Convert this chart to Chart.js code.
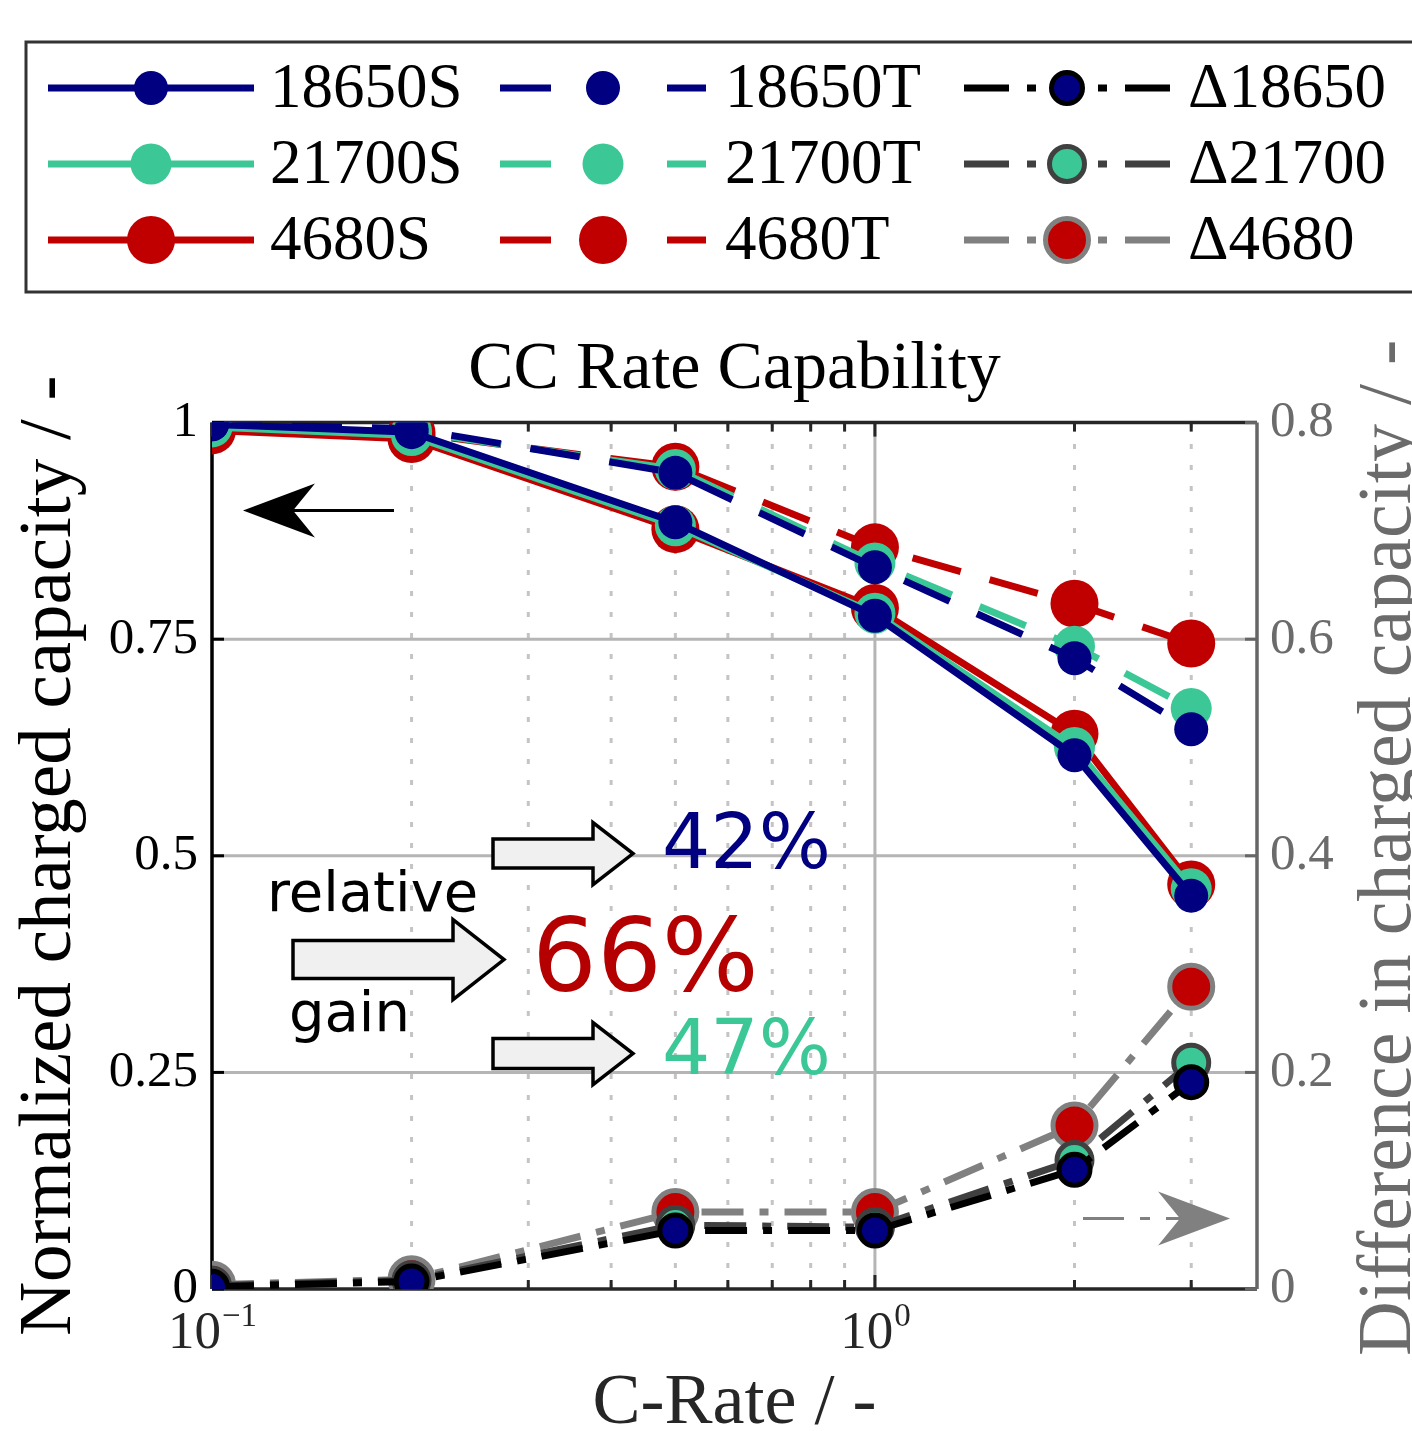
<!DOCTYPE html>
<html>
<head>
<meta charset="utf-8">
<script src="https://cdn.jsdelivr.net/npm/chart.js@4.4.0/dist/chart.umd.min.js"></script>
<style>
    html, body { margin: 0; padding: 0; background: #fff; }
    canvas { display: block; }
</style>
</head>
<body>
<canvas id="rateChart" width="1412" height="1431"></canvas>
<script>
// C-rates of the test points
const cRates = [0.1, 0.2, 0.5, 1, 2, 3];

// normalized charged capacity, S and T variants
const s18650 = [0.998, 0.989, 0.885, 0.777, 0.616, 0.454];
const s21700 = [0.995, 0.985, 0.881, 0.780, 0.625, 0.462];
const s4680 = [0.991, 0.981, 0.877, 0.786, 0.641, 0.467];
const t18650 = [0.998, 0.993, 0.942, 0.833, 0.728, 0.646];
const t21700 = [0.997, 0.990, 0.946, 0.838, 0.742, 0.670];
const t4680 = [0.996, 0.988, 0.949, 0.856, 0.791, 0.745];

// difference T - S (right axis)
const d18650 = [0.002, 0.007, 0.054, 0.054, 0.110, 0.191];
const d21700 = [0.003, 0.008, 0.059, 0.057, 0.119, 0.209];
const d4680 = [0.004, 0.009, 0.071, 0.071, 0.151, 0.279];

const xTickValues = [0.1, 0.2, 0.3, 0.4, 0.5, 0.6, 0.7, 0.8, 0.9, 1, 2, 3];
const xTickLabels = { 0.1: ['10', '\u22121'], 1: ['10', '0'] };
const leftTicks = [0, 0.25, 0.5, 0.75, 1];
const rightTicks = [0, 0.2, 0.4, 0.6, 0.8];
const gainTexts = ['42%', '66%', '47%'];
const gainWords = ['relative', 'gain'];

const SERIF = '"Liberation Serif", "Times New Roman", serif';
const SANS = '"DejaVu Sans", sans-serif';
const NAVY = '#000080';
const TEAL = '#3cc896';
const RED = '#c00000';
const DASH = [50, 30];
const DASHDOT = [42, 16, 9, 16];

function mainSeries(label, values, color, radius, dash) {
    return {
        label: label,
        data: cRates.map((x, i) => ({ x: x, y: values[i] })),
        yAxisID: 'y',
        borderColor: color,
        backgroundColor: color,
        borderWidth: 7,
        borderDash: dash,
        pointRadius: radius,
        pointHoverRadius: radius,
        pointBackgroundColor: color,
        pointBorderColor: color,
        pointBorderWidth: 0,
        tension: 0
    };
}

function deltaSeries(label, values, lineColor, fill, radius) {
    return {
        label: label,
        data: cRates.map((x, i) => ({ x: x, y: values[i] })),
        yAxisID: 'y2',
        borderColor: lineColor,
        backgroundColor: fill,
        borderWidth: 7,
        borderDash: DASHDOT,
        pointRadius: radius,
        pointHoverRadius: radius,
        pointBackgroundColor: fill,
        pointBorderColor: lineColor,
        pointBorderWidth: 5,
        tension: 0
    };
}

// first entry ends up on top
const datasets = [
    deltaSeries('\u039418650', d18650, '#000000', NAVY, 15.5),
    deltaSeries('\u039421700', d21700, '#404040', TEAL, 17.5),
    deltaSeries('\u03944680', d4680, '#808080', RED, 21.5),
    mainSeries('18650T', t18650, NAVY, 17, DASH),
    mainSeries('18650S', s18650, NAVY, 17, []),
    mainSeries('21700T', t21700, TEAL, 20.5, DASH),
    mainSeries('21700S', s21700, TEAL, 20.5, []),
    mainSeries('4680T', t4680, RED, 24, DASH),
    mainSeries('4680S', s4680, RED, 24, [])
];

function line(ctx, x1, y1, x2, y2) {
    ctx.beginPath();
    ctx.moveTo(x1, y1);
    ctx.lineTo(x2, y2);
    ctx.stroke();
}

function blockArrow(ctx, x0, yc, shaftLen, shaftHalf, headLen, headHalf) {
    ctx.save();
    ctx.beginPath();
    ctx.moveTo(x0, yc - shaftHalf);
    ctx.lineTo(x0 + shaftLen, yc - shaftHalf);
    ctx.lineTo(x0 + shaftLen, yc - headHalf);
    ctx.lineTo(x0 + shaftLen + headLen, yc);
    ctx.lineTo(x0 + shaftLen, yc + headHalf);
    ctx.lineTo(x0 + shaftLen, yc + shaftHalf);
    ctx.lineTo(x0, yc + shaftHalf);
    ctx.closePath();
    ctx.fillStyle = '#f0f0f0';
    ctx.fill();
    ctx.lineWidth = 3.5;
    ctx.strokeStyle = '#000';
    ctx.lineJoin = 'miter';
    ctx.stroke();
    ctx.restore();
}

// thin arrow: tip, wing span back, notch
function thinArrow(ctx, x1, x2, y, color, dash, dir) {
    ctx.save();
    ctx.strokeStyle = color;
    ctx.fillStyle = color;
    ctx.lineWidth = 3;
    ctx.setLineDash(dash);
    const notch = x2 - dir * 50;
    line(ctx, x1, y, notch, y);
    ctx.setLineDash([]);
    ctx.beginPath();
    ctx.moveTo(x2, y);
    ctx.lineTo(x2 - dir * 72, y - 27);
    ctx.lineTo(notch, y);
    ctx.lineTo(x2 - dir * 72, y + 27);
    ctx.closePath();
    ctx.fill();
    ctx.restore();
}

const figurePlugin = {
    id: 'figureDecor',
    beforeDatasetsDraw(chart) {
        const ctx = chart.ctx;
        const ca = chart.chartArea;
        const xs = chart.scales.x, ys = chart.scales.y, y2 = chart.scales.y2;
        ctx.save();
        // minor dotted grid
        ctx.strokeStyle = '#c4c4c4';
        ctx.lineWidth = 3;
        ctx.setLineDash([5, 16]);
        xTickValues.forEach(v => {
            if (xTickLabels[v]) return;
            const px = xs.getPixelForValue(v);
            line(ctx, px, ca.bottom, px, ca.top);
        });
        // major grid
        ctx.setLineDash([]);
        ctx.strokeStyle = '#b5b5b5';
        const p1 = xs.getPixelForValue(1);
        line(ctx, p1, ca.top, p1, ca.bottom);
        leftTicks.forEach(v => {
            if (v === 0 || v === 1) return;
            const py = ys.getPixelForValue(v);
            line(ctx, ca.left, py, ca.right, py);
        });
        // frame
        ctx.lineWidth = 3.5;
        ctx.strokeStyle = '#262626';
        line(ctx, ca.left, ca.top, ca.right, ca.top);
        line(ctx, ca.left, ca.bottom, ca.right, ca.bottom);
        ctx.strokeStyle = '#666666';
        line(ctx, ca.right, ca.top, ca.right, ca.bottom);
        ctx.strokeStyle = '#000';
        line(ctx, ca.left, ca.top, ca.left, ca.bottom);
        // inward ticks
        ctx.lineWidth = 3;
        ctx.strokeStyle = '#262626';
        xTickValues.forEach(v => {
            const px = xs.getPixelForValue(v);
            const len = xTickLabels[v] ? 14 : 9;
            line(ctx, px, ca.bottom, px, ca.bottom - len);
            line(ctx, px, ca.top, px, ca.top + len);
        });
        ctx.strokeStyle = '#000';
        leftTicks.forEach(v => {
            const py = ys.getPixelForValue(v);
            line(ctx, ca.left, py, ca.left + 12, py);
        });
        ctx.strokeStyle = '#666666';
        rightTicks.forEach(v => {
            const py = y2.getPixelForValue(v);
            line(ctx, ca.right, py, ca.right - 12, py);
        });
        // x tick labels with exponent
        ctx.fillStyle = '#262626';
        ctx.textBaseline = 'alphabetic';
        ctx.textAlign = 'left';
        Object.keys(xTickLabels).forEach(k => {
            const [base, exp] = xTickLabels[k];
            const px = xs.getPixelForValue(Number(k));
            ctx.font = '53px ' + SERIF;
            const wb = ctx.measureText(base).width;
            ctx.font = '33px ' + SERIF;
            const we = ctx.measureText(exp).width;
            const x0 = px - (wb + we) / 2;
            ctx.font = '53px ' + SERIF;
            ctx.fillText(base, x0, ca.bottom + 59);
            ctx.font = '33px ' + SERIF;
            ctx.fillText(exp, x0 + wb + 1, ca.bottom + 37);
        });
        // right axis title, read bottom to top
        ctx.fillStyle = '#6b6b6b';
        ctx.font = '76px ' + SERIF;
        ctx.textAlign = 'center';
        ctx.translate(chart.width - 2, (ca.top + ca.bottom) / 2 - 8);
        ctx.rotate(-Math.PI / 2);
        ctx.fillText('Difference in charged capacity / -', 0, 0);
        ctx.restore();
    },
    afterDatasetsDraw(chart) {
        const ctx = chart.ctx;
        const ca = chart.chartArea;
        ctx.save();
        // axis direction arrows
        thinArrow(ctx, ca.left + 182, ca.left + 31, ca.top + 88, '#000', [], -1);
        thinArrow(ctx, ca.left + 871, ca.left + 1018, ca.top + 796, '#808080', [41, 16, 10, 16], 1);
        // gain annotation
        blockArrow(ctx, ca.left + 281, ca.top + 431, 100, 14.5, 40, 31);
        blockArrow(ctx, ca.left + 81, ca.top + 537, 160, 19, 51, 40);
        blockArrow(ctx, ca.left + 281, ca.top + 631, 100, 15, 40, 31);
        ctx.textAlign = 'left';
        ctx.textBaseline = 'alphabetic';
        ctx.font = '76px ' + SANS;
        ctx.fillStyle = NAVY;
        ctx.fillText(gainTexts[0], ca.left + 450, ca.top + 445);
        ctx.fillStyle = TEAL;
        ctx.fillText(gainTexts[2], ca.left + 450, ca.top + 651);
        ctx.font = '102px ' + SANS;
        ctx.fillStyle = '#b40000';
        ctx.fillText(gainTexts[1], ca.left + 320, ca.top + 568);
        ctx.font = '56px ' + SANS;
        ctx.fillStyle = '#000';
        ctx.fillText(gainWords[0], ca.left + 55, ca.top + 488);
        ctx.fillText(gainWords[1], ca.left + 77, ca.top + 608);
        ctx.restore();
    },
    afterDraw(chart) {
        const ctx = chart.ctx;
        const byLabel = {};
        chart.data.datasets.forEach(ds => { byLabel[ds.label] = ds; });
        const rows = ['18650', '21700', '4680'];
        const cols = [
            { key: r => r + 'S', x0: 48, text: 270, dash: [] },
            { key: r => r + 'T', x0: 500, text: 725, dash: [51, 116] },
            { key: r => '\u0394' + r, x0: 964, text: 1188, dash: [45, 18, 9, 62, 9, 18, 45, 0] }
        ];
        ctx.save();
        ctx.lineWidth = 3;
        ctx.strokeStyle = '#333';
        ctx.strokeRect(26, 42, 1400, 250);
        rows.forEach((r, ri) => {
            const y = 88 + ri * 76;
            cols.forEach(c => {
                const ds = byLabel[c.key(r)];
                ctx.strokeStyle = ds.borderColor;
                ctx.lineWidth = 7;
                ctx.setLineDash(c.dash);
                line(ctx, c.x0, y, c.x0 + 206, y);
                ctx.setLineDash([]);
                const mx = c.x0 + 103;
                ctx.beginPath();
                ctx.arc(mx, y, ds.pointRadius, 0, Math.PI * 2);
                ctx.fillStyle = ds.pointBackgroundColor;
                ctx.fill();
                if (ds.pointBorderWidth) {
                    ctx.lineWidth = ds.pointBorderWidth;
                    ctx.strokeStyle = ds.pointBorderColor;
                    ctx.stroke();
                }
                ctx.fillStyle = '#000';
                ctx.font = '63px ' + SERIF;
                ctx.textAlign = 'left';
                ctx.textBaseline = 'middle';
                ctx.fillText(ds.label, c.text, y + 2);
            });
        });
        ctx.restore();
    }
};

new Chart(document.getElementById('rateChart'), {
    type: 'line',
    data: { datasets: datasets },
    options: {
        responsive: false,
        animation: false,
        devicePixelRatio: 1,
        events: [],
        layout: { padding: { top: 329, left: 0, right: 0, bottom: 0 } },
        scales: {
            x: {
                type: 'logarithmic',
                min: 0.1,
                max: 3.77,
                afterBuildTicks: s => { s.ticks = xTickValues.map(v => ({ value: v })); },
                afterFit: s => { s.height = 142; },
                ticks: { display: false },
                grid: { display: false, drawTicks: false },
                border: { display: false },
                title: {
                    display: true,
                    text: 'C-Rate / -',
                    color: '#262626',
                    font: { family: SERIF, size: 72, lineHeight: 0.76 },
                    padding: 0
                }
            },
            y: {
                position: 'left',
                min: 0,
                max: 1,
                afterBuildTicks: s => { s.ticks = leftTicks.map(v => ({ value: v })); },
                afterFit: s => { s.width = 212; },
                ticks: {
                    color: '#000',
                    padding: 14,
                    font: { family: SERIF, size: 51 },
                    callback: v => String(v)
                },
                grid: { display: false, drawTicks: false },
                border: { display: false },
                title: {
                    display: true,
                    text: 'Normalized charged capacity / -',
                    color: '#000',
                    font: { family: SERIF, size: 75, lineHeight: 1.2 },
                    padding: { top: 5, bottom: 0 }
                }
            },
            y2: {
                position: 'right',
                min: 0,
                max: 0.8,
                afterBuildTicks: s => { s.ticks = rightTicks.map(v => ({ value: v })); },
                afterFit: s => { s.width = 155; },
                ticks: {
                    color: '#6b6b6b',
                    padding: 13,
                    font: { family: SERIF, size: 51 },
                    callback: v => String(Number(v.toFixed(2)))
                },
                grid: { display: false, drawTicks: false },
                border: { display: false }
            }
        },
        plugins: {
            legend: { display: false },
            tooltip: { enabled: false },
            title: {
                display: true,
                fullSize: false,
                text: 'CC Rate Capability',
                color: '#000',
                font: { family: SERIF, size: 68, weight: 'normal', lineHeight: 1.2 },
                padding: { top: 0, bottom: 12 }
            }
        }
    },
    plugins: [figurePlugin]
});
</script>
</body>
</html>
